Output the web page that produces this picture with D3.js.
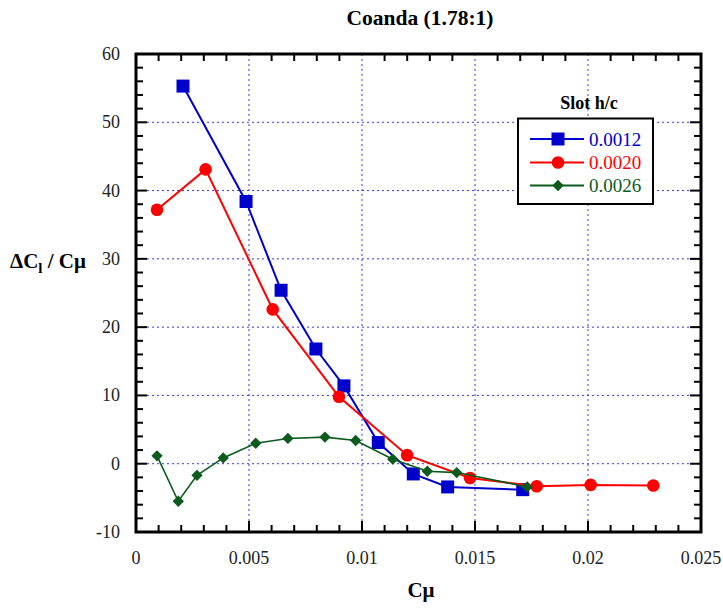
<!DOCTYPE html>
<html><head><meta charset="utf-8">
<script src="https://cdn.jsdelivr.net/npm/d3@7"></script>
<style>body{margin:0;background:#fff}svg{display:block}
svg text{font-family:"Liberation Serif","Times New Roman",Times,serif}</style>
</head><body>
<svg id="c" width="723" height="609"></svg>
<script>
const seriesNames = ["0.0012", "0.0020", "0.0026"];
const seriesColors = ["#0000cc", "#ff0000", "#0b5c1c"];
const s1x = [0.00208, 0.00487, 0.00642, 0.00796, 0.0092, 0.01072, 0.01227, 0.01379, 0.01711];
const s1y = [55.3, 38.4, 25.4, 16.8, 11.4, 3.1, -1.5, -3.4, -3.8];
const s2x = [0.00093, 0.00308, 0.00605, 0.00898, 0.0120, 0.01478, 0.01773, 0.02012, 0.02289];
const s2y = [37.2, 43.1, 22.6, 9.8, 1.25, -2.1, -3.3, -3.1, -3.2];
const s3x = [0.00093, 0.00187, 0.0027, 0.00386, 0.0053, 0.00672, 0.00836, 0.00972, 0.01136, 0.01289, 0.01419, 0.01731];
const s3y = [1.15, -5.5, -1.7, 0.85, 3.0, 3.7, 3.9, 3.4, 0.66, -1.1, -1.3, -3.4];
const xTicks = [0, 0.005, 0.01, 0.015, 0.02, 0.025];
const xTickLabels = ["0", "0.005", "0.01", "0.015", "0.02", "0.025"];
const yTicks = [-10, 0, 10, 20, 30, 40, 50, 60];
const titleText = "Coanda (1.78:1)";
const legendTitle = "Slot h/c";

const svg = d3.select("#c");
const L = 136, R = 701, T = 54, B = 532;
const x = d3.scaleLinear().domain([0, 0.025]).range([L, R]);
const y = d3.scaleLinear().domain([-10, 60]).range([B, T]);

// grid
const grid = svg.append("g").attr("stroke", "#3a3ae0").attr("stroke-width", 1).attr("stroke-dasharray", "2,3");
xTicks.slice(1, -1).forEach(v => grid.append("line").attr("x1", x(v)).attr("x2", x(v)).attr("y1", T).attr("y2", B - 11));
yTicks.slice(1, -1).forEach(v => grid.append("line").attr("x1", L + 11).attr("x2", R).attr("y1", y(v)).attr("y2", y(v)));

// ticks (inside, all four sides)
const tk = svg.append("g").attr("stroke", "#000").attr("stroke-width", 2);
d3.range(0, 0.02501, 0.001).forEach((v, i) => {
  const major = i % 5 === 0;
  const len = major ? 11 : 7;
  const xv = x(v);
  tk.append("line").attr("x1", xv).attr("x2", xv).attr("y1", B).attr("y2", B - len);
  tk.append("line").attr("x1", xv).attr("x2", xv).attr("y1", T).attr("y2", T + (major ? 0 : len));
});
d3.range(-10, 60.01, 2).forEach(v => {
  const major = v % 10 === 0;
  const len = major ? 11 : 7;
  tk.append("line").attr("x1", L).attr("x2", L + len).attr("y1", y(v)).attr("y2", y(v));
  tk.append("line").attr("x1", R).attr("x2", R - len).attr("y1", y(v)).attr("y2", y(v));
});

// frame
svg.append("rect").attr("x", L).attr("y", T).attr("width", R - L).attr("height", B - T)
  .attr("fill", "none").attr("stroke", "#000").attr("stroke-width", 3);

// tick labels
svg.append("g").selectAll("text").data(xTicks).join("text")
  .attr("x", d => x(d)).attr("y", 564).attr("text-anchor", "middle")
  .attr("font-size", 18).attr("fill", "#222")
  .text((d, i) => xTickLabels[i]);
svg.append("g").selectAll("text").data(yTicks).join("text")
  .attr("x", 120).attr("y", d => y(d) + 6).attr("text-anchor", "end")
  .attr("font-size", 18).attr("fill", "#222")
  .text(d => d);

// titles
svg.append("text").attr("x", 420).attr("y", 25).attr("text-anchor", "middle")
  .attr("font-weight", "bold").attr("font-size", 21.5).text(titleText);
svg.append("text").attr("x", 421).attr("y", 597).attr("text-anchor", "middle")
  .attr("font-weight", "bold").attr("font-size", 21).text("Cμ");
const yl = svg.append("text").attr("x", 10).attr("y", 268)
  .attr("font-weight", "bold").attr("font-size", 21);
yl.append("tspan").text("ΔC");
yl.append("tspan").attr("dy", 5).attr("font-size", 15).text("l");
yl.append("tspan").attr("dy", -5).text(" / Cμ");

// series
const diamond = {draw(ctx, size) { const r = Math.sqrt(size) / 2 * Math.SQRT2; ctx.moveTo(0, -r); ctx.lineTo(r, 0); ctx.lineTo(0, r); ctx.lineTo(-r, 0); ctx.closePath(); }};
const series = [
  {xs: s1x, ys: s1y, sym: d3.symbolSquare, size: 169, w: 2},
  {xs: s2x, ys: s2y, sym: d3.symbolCircle, size: 125, w: 2},
  {xs: s3x, ys: s3y, sym: diamond, size: 64, w: 1.6},
];
const line = d3.line().x(d => x(d[0])).y(d => y(d[1]));
series.forEach((s, i) => {
  const pts = s.xs.map((v, j) => [v, s.ys[j]]);
  svg.append("path").attr("d", line(pts)).attr("fill", "none")
    .attr("stroke", seriesColors[i]).attr("stroke-width", s.w);
  svg.append("g").selectAll("path").data(pts).join("path")
    .attr("transform", d => `translate(${x(d[0])},${y(d[1])})`)
    .attr("d", d3.symbol().type(s.sym).size(s.size)).attr("fill", seriesColors[i]);
});

// legend
svg.append("text").attr("x", 589).attr("y", 109).attr("text-anchor", "middle")
  .attr("font-weight", "bold").attr("font-size", 18).text(legendTitle);
svg.append("rect").attr("x", 518).attr("y", 118.5).attr("width", 135).attr("height", 85.5)
  .attr("fill", "#fff").attr("stroke", "#000").attr("stroke-width", 2);
const legY = [139, 162.5, 185.5];
series.forEach((s, i) => {
  svg.append("line").attr("x1", 530).attr("x2", 584).attr("y1", legY[i]).attr("y2", legY[i])
    .attr("stroke", seriesColors[i]).attr("stroke-width", 2);
  svg.append("path").attr("transform", `translate(558,${legY[i]})`)
    .attr("d", d3.symbol().type(s.sym).size(s.size)).attr("fill", seriesColors[i]);
  svg.append("text").attr("x", 589).attr("y", legY[i] + 6.5)
    .attr("font-size", 19).attr("fill", seriesColors[i]).text(seriesNames[i]);
});
</script>
</body></html>
